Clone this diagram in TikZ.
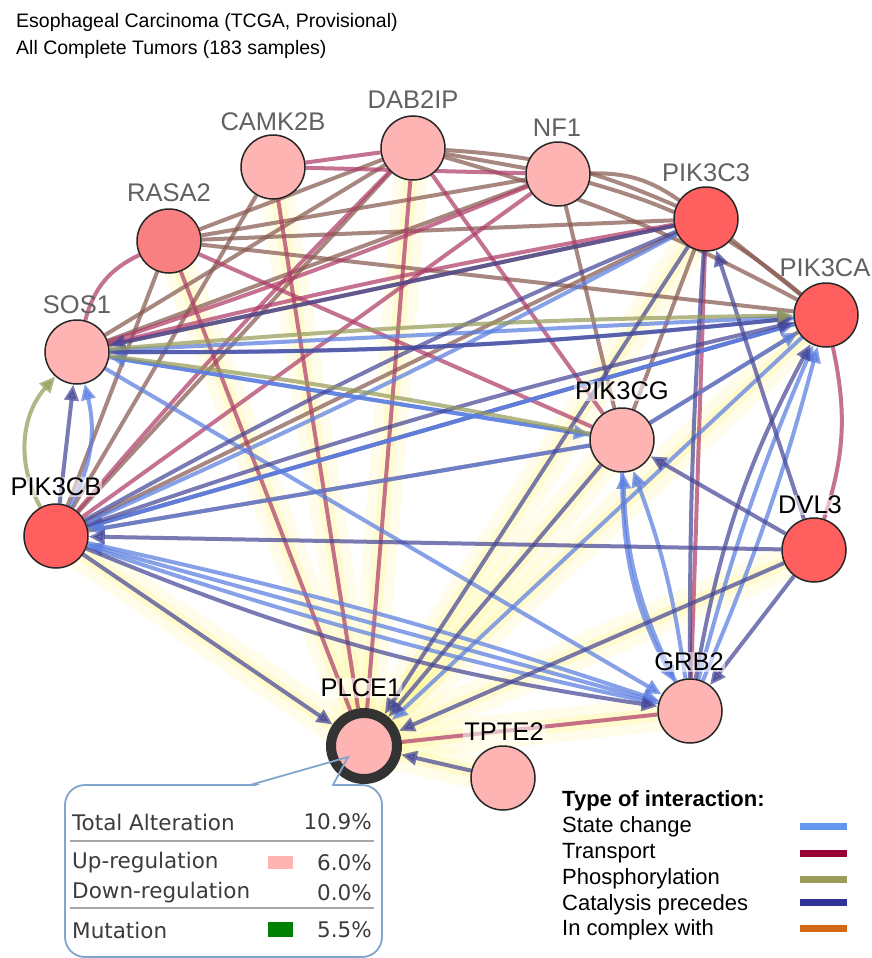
\documentclass[tikz,border=0pt]{standalone}
\usepackage{fontspec}
\setmainfont{Liberation Sans}
\newfontfamily\tipfont{DejaVu Sans}
\usetikzlibrary{arrows.meta}
\pgfdeclarelayer{bgl}
\pgfdeclarelayer{glow}
\pgfdeclarelayer{edges}
\pgfsetlayers{bgl,glow,edges,main}
\definecolor{cBrown}{RGB}{135,90,80}
\definecolor{cTrans}{RGB}{175,60,105}
\definecolor{cState}{RGB}{90,125,225}
\definecolor{cCat}{RGB}{70,70,150}
\definecolor{cPhos}{RGB}{150,155,90}
\definecolor{cHigh}{RGB}{255,95,95}
\definecolor{cMid}{RGB}{248,128,128}
\definecolor{cLow}{RGB}{255,180,180}
\definecolor{lState}{RGB}{100,150,240}
\definecolor{lTrans}{RGB}{150,0,55}
\definecolor{lPhos}{RGB}{155,155,90}
\definecolor{lCat}{RGB}{50,50,150}
\definecolor{lComp}{RGB}{210,105,20}
\definecolor{tipBorder}{RGB}{130,165,205}
\definecolor{tipText}{RGB}{60,60,60}
\tikzset{
  gene/.style={circle, draw=black!85, line width=1.5pt, minimum size=64pt, inner sep=0pt},
  glab/.style={font=\fontsize{25.5}{30}\selectfont, text=black!62, inner sep=1pt},
  blab/.style={font=\fontsize{25.5}{30}\selectfont, text=black, fill=white, fill opacity=0.55, text opacity=1, inner sep=1pt},
  edge/.style={line width=4pt, draw opacity=0.72},
  eBr/.style={edge, draw=cBrown},
  eTr/.style={edge, draw=cTrans},
  eSc/.style={edge, draw=cState},
  eCa/.style={edge, draw=cCat},
  ePh/.style={edge, draw=cPhos},
  arr/.style={-{Triangle[length=16pt,width=14pt]}, fill opacity=0.72},
  glowA/.style={line width=34pt, draw=yellow!50!white, draw opacity=0.16, line cap=round},
  glowB/.style={line width=14pt, draw=yellow!60!white, draw opacity=0.2, line cap=round},
  leg/.style={anchor=west, inner sep=0pt, font=\fontsize{22}{26}\selectfont},
  sw/.style={line width=7pt},
  tipt/.style={inner sep=0pt, font=\tipfont\fontsize{21.5}{25}\selectfont, text=tipText},
}
\begin{document}
\begin{tikzpicture}[x=1pt,y=-1pt]
\useasboundingbox (0,0) rectangle (872,958);
\begin{pgfonlayer}{bgl}
\fill[white] (0,0) rectangle (872,958);
\end{pgfonlayer}

% title
\node[anchor=west, inner sep=0pt, font=\fontsize{19.5}{23}\selectfont] (t1) at (16,22) {Esophageal Carcinoma (TCGA, Provisional)};
\node[anchor=west, inner sep=0pt, font=\fontsize{19.5}{23}\selectfont] (t2) at (16,49) {All Complete Tumors (183 samples)};

% genes
\node[gene, fill=cLow]  (sos)  at (77,352) {};
\node[gene, fill=cMid]  (rasa) at (169,241) {};
\node[gene, fill=cLow]  (camk) at (273,167) {};
\node[gene, fill=cLow]  (dab)  at (413,148) {};
\node[gene, fill=cLow]  (nf)   at (558,174) {};
\node[gene, fill=cHigh] (c3)   at (706,219) {};
\node[gene, fill=cHigh] (ca)   at (826,315) {};
\node[gene, fill=cLow]  (cg)   at (622,440) {};
\node[gene, fill=cHigh] (cb)   at (56,536) {};
\node[gene, fill=cHigh] (dvl)  at (814,550) {};
\node[gene, fill=cLow]  (grb)  at (690,711) {};
\node[gene, fill=cLow, draw=black!80, line width=10pt, minimum size=66pt] (plce) at (364,746) {};
\node[gene, fill=cLow]  (tpte) at (503,778) {};

% labels
\node[glab] (sos-l)  at (77,305)  {SOS1};
\node[glab] (rasa-l) at (169,193) {RASA2};
\node[glab] (camk-l) at (273,122) {CAMK2B};
\node[glab] (dab-l)  at (413,100) {DAB2IP};
\node[glab] (nf-l)   at (557,128) {NF1};
\node[glab] (c3-l)   at (706,173) {PIK3C3};
\node[glab] (ca-l)   at (825,268) {PIK3CA};
\node[blab] (cg-l)   at (622,391) {PIK3CG};
\node[blab] (cb-l)   at (56,487)  {PIK3CB};
\node[blab] (dvl-l)  at (810,505) {DVL3};
\node[blab] (grb-l)  at (689,662) {GRB2};
\node[blab] (plce-l) at (361,688) {PLCE1};
\node[blab] (tpte-l) at (504,732) {TPTE2};

% glow of PLCE1 edges
\begin{pgfonlayer}{glow}
\foreach \s in {camk,dab,rasa,cb,c3,ca,cg,dvl,grb,tpte}{
  \draw[glowA] (\s.center) -- (plce.center);
  \draw[glowB] (\s.center) -- (plce.center);
}
\end{pgfonlayer}

\begin{pgfonlayer}{edges}
% in complex (brown)
\draw[eBr] (rasa) -- (nf);
\draw[eBr] (rasa) -- (c3);
\draw[eBr] (rasa) -- (ca);
\draw[eBr] (rasa) -- (dab);
\draw[eBr] (dab) -- (nf);
\draw[eBr] (dab) to[bend left=10] (c3);
\draw[eBr] (dab) to[bend left=6] (ca);
\draw[eBr] (nf) to[bend left=18] (c3);
\draw[eBr] (nf) to[bend left=12] (ca);
\draw[eBr] (c3) -- (ca);
\draw[eBr] (dab) -- (sos);
\draw[eBr] (dab) -- (cb);
\draw[eBr] (nf) -- (sos);
\draw[eBr] (c3) -- (sos);
\draw[eBr] (c3) -- (cb);
\draw[eBr] (ca) -- (cb);
\draw[eBr] (nf) -- (cg);
\draw[eBr] (camk) -- (cb);
\draw[eBr] (cg) -- (cb);
\draw[eBr] (ca) -- (cg);
\draw[eBr] (rasa) -- (cb);
\draw[eBr] (c3) -- (cg);
% transport (mauve)
\draw[eTr] (camk) -- (dab);
\draw[eTr] (camk) -- (nf);
\draw[eTr] (camk) -- (plce);
\draw[eTr] (dab) -- (plce);
\draw[eTr] (rasa) -- (plce);
\draw[eTr] (rasa) to[bend right=25] (sos);
\draw[eTr] (dab) -- (cg);
\draw[eTr] (nf) to[bend left=2] (sos);
\draw[eTr] (nf) -- (cb);
\draw[eTr] (c3) -- (grb);
\draw[eTr] (ca) to[bend left=15] (dvl);
\draw[eTr] (grb) -- (plce);
\draw[eTr] (rasa) -- (cg);
\draw[eTr] (dab) to[bend right=2] (cb);
\draw[eTr] (c3) to[bend right=2] (sos);
% state change (blue)
\draw[eSc,arr] (sos) -- (ca);
\draw[eSc,arr] (cb) -- (ca);
\draw[eSc,arr] (cg) -- (ca);
\draw[eSc,arr] (grb) to[bend left=4] (ca);
\draw[eSc,arr] (grb) to[bend right=4] (ca);
\draw[eSc,arr] (ca) to[bend left=3] (sos);
\draw[eSc,arr] (ca) -- (cb);
\draw[eSc,arr] (cg) -- (sos);
\draw[eSc,arr] (cg) -- (cb);
\draw[eSc,arr] (sos) -- (grb);
\draw[eSc,arr] (cb) to[bend left=3] (grb);
\draw[eSc,arr] (cb) to[bend right=3] (grb);
\draw[eSc,arr] (grb) to[bend left=12] (cg);
\draw[eSc,arr] (grb) to[bend right=6] (cg);
\draw[eSc,arr] (cg) to[bend right=14] (grb);
\draw[eSc,arr] (grb) -- (cb);
\draw[eSc,arr] (ca) -- (plce);
\draw[eSc,arr] (sos) -- (cg);
\draw[eSc,arr] (cb) to[bend right=20] (sos);
\draw[eSc] (c3) to[bend left=2] (cb);
% catalysis precedes (navy)
\draw[eCa,arr] (cb) -- (sos);
\draw[eCa,arr] (c3) -- (sos);
\draw[eCa,arr] (c3) -- (plce);
\draw[eCa,arr] (cg) -- (plce);
\draw[eCa,arr] (dvl) -- (plce);
\draw[eCa,arr] (dvl) -- (c3);
\draw[eCa,arr] (dvl) -- (cg);
\draw[eCa,arr] (dvl) -- (cb);
\draw[eCa,arr] (dvl) -- (grb);
\draw[eCa,arr] (cb) -- (plce);
\draw[eCa,arr] (tpte) -- (plce);
\draw[eCa,arr] (sos) to[bend right=3] (ca);
\draw[eCa,arr] (cb) to[bend left=3] (ca);
\draw[eCa,arr] (grb) to[bend left=9] (ca);
\draw[eCa] (c3) to[bend right=3] (cb);
\draw[eCa,arr] (cb) to[bend right=7] (grb);
\draw[eCa] (c3) to[bend right=2] (grb);
% phosphorylation (olive)
\draw[ePh,arr] (cb) to[bend left=35] (sos);
\draw[ePh,arr] (sos) to[bend left=2] (ca);
\draw[ePh] (sos) to[bend left=2] (cg);
\end{pgfonlayer}

% tooltip
\node[draw=tipBorder, line width=1.8pt, fill=white, rounded corners=20pt, minimum width=317pt, minimum height=172pt, inner sep=0pt] (tip) at (223.5,871) {};
\fill[white] (252,787) -- (282,777) -- (337,777) -- (331,787) -- cycle;
\draw[tipBorder, line width=1.8pt] (250,785) -- (348,757) -- (333,785);
\node[tipt, anchor=west] (ta) at (72,822) {Total Alteration};
\node[tipt, anchor=east] (tav) at (372,822) {10.9\%};
\draw[black!35, line width=2.5pt] (70,841) -- (374,841);
\node[tipt, anchor=west] (tu) at (72,863) {Up-regulation};
\fill[cLow] (268,856) rectangle (293,869);
\node[tipt, anchor=east] (tuv) at (372,863) {6.0\%};
\node[tipt, anchor=west] (td) at (72,893) {Down-regulation};
\node[tipt, anchor=east] (tdv) at (372,893) {0.0\%};
\draw[black!35, line width=1.5pt] (70,908) -- (374,908);
\node[tipt, anchor=west] (tm) at (72,930) {Mutation};
\fill[green!50!black] (268,922) rectangle (293,937);
\node[tipt, anchor=east] (tmv) at (372,930) {5.5\%};

% legend
\node[leg, font=\bfseries\fontsize{22}{26}\selectfont] (lg) at (562,801) {Type of interaction:};
\node[leg] (l1) at (562,827) {State change};
\node[leg] (l2) at (562,853) {Transport};
\node[leg] (l3) at (562,879) {Phosphorylation};
\node[leg] (l4) at (562,905) {Catalysis precedes};
\node[leg] (l5) at (562,930) {In complex with};
\draw[sw, lState] (800,826) -- (847,826);
\draw[sw, lTrans] (800,853) -- (847,853);
\draw[sw, lPhos]  (800,879) -- (847,879);
\draw[sw, lCat]   (800,902) -- (847,902);
\draw[sw, lComp]  (800,928) -- (847,928);
\end{tikzpicture}
\end{document}
